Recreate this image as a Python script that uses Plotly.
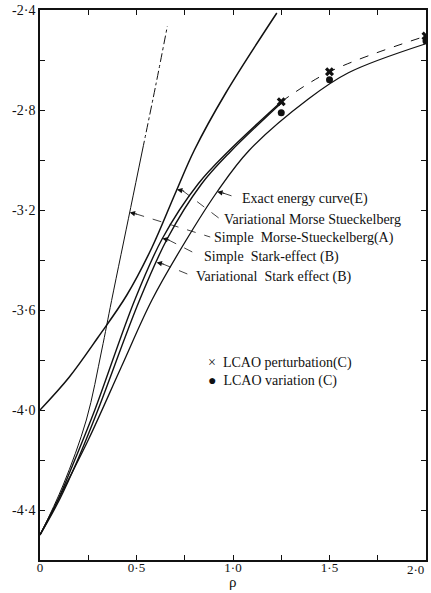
import numpy as np
import plotly.graph_objects as go

# ---------------- data ----------------
rho_simple_morse = [0.0, 0.12, 0.24, 0.32, 0.371, 0.47, 0.531]
E_simple_morse = [-4.5, -4.30, -4.04, -3.76, -3.562, -3.19, -2.96]
rho_simple_morse_ext = [0.531, 0.60, 0.66]
E_simple_morse_ext = [-2.96, -2.70, -2.464]

rho_var_morse = [0.0, 0.15, 0.30, 0.45, 0.58, 0.70, 0.80, 0.964, 1.227]
E_var_morse = [-4.0, -3.87, -3.71, -3.54, -3.35, -3.135, -2.96, -2.73, -2.412]

rho_simple_stark = [0.0, 0.093, 0.18, 0.284, 0.49, 0.634, 0.82, 0.979, 1.25]
E_simple_stark = [-4.5, -4.36, -4.2, -4.0, -3.562, -3.314, -3.095, -2.963, -2.767]

rho_var_stark = [0.0, 0.10, 0.195, 0.30, 0.515, 0.66, 0.835, 0.985, 1.25]
E_var_stark = [-4.5, -4.36, -4.2, -4.0, -3.562, -3.314, -3.098, -2.968, -2.772]

rho_exact = [0.0, 0.10, 0.25, 0.42, 0.58, 0.75, 0.918, 1.082, 1.392, 1.598, 1.995]
E_exact = [-4.5, -4.35, -4.12, -3.83, -3.56, -3.33, -3.127, -2.963, -2.755, -2.651, -2.536]

rho_lcao = [1.25, 1.5, 2.0]
E_lcao_pert = [-2.767, -2.647, -2.504]
E_lcao_var = [-2.811, -2.679, -2.524]

x_ticks = [0, 0.25, 0.5, 0.75, 1.0, 1.25, 1.5, 1.75, 2.0]
x_ticktext = ["0", "", "0·5", "", "1·0", "", "1·5", "", ""]
x_last_label = "2·0"
y_ticks = [-4.4, -4.2, -4.0, -3.8, -3.6, -3.4, -3.2, -3.0, -2.8, -2.6, -2.4]
y_ticktext = ["-4·4", "", "-4·0", "", "-3·6", "", "-3·2", "", "-2·8", "", "-2·4"]

labels = ["Exact energy curve(E)", "Variational Morse Stueckelberg",
          "Simple  Morse-Stueckelberg(A)", "Simple  Stark-effect (B)",
          "Variational  Stark effect (B)"]

FONT = "Liberation Serif"
INK = "#111111"

fig = go.Figure()

def curve(x, y, width=1.3, dash="solid"):
    fig.add_trace(go.Scatter(x=x, y=y, mode="lines", line_shape="spline",
                             line=dict(color=INK, width=width, dash=dash),
                             showlegend=False, hoverinfo="skip"))

curve(rho_simple_morse, E_simple_morse, 1.0)
curve(rho_simple_morse_ext, E_simple_morse_ext, 1.0, "dashdot")
curve(rho_var_morse, E_var_morse, 1.5)
curve(rho_simple_stark, E_simple_stark, 1.4)
curve(rho_var_stark, E_var_stark, 1.4)
curve(rho_exact, E_exact, 1.3)
curve(rho_lcao, E_lcao_pert, 1.0, "dash")

fig.add_trace(go.Scatter(x=rho_lcao, y=E_lcao_pert, mode="markers",
                         marker=dict(symbol="x", size=8, color=INK),
                         showlegend=False, hoverinfo="skip"))
fig.add_trace(go.Scatter(x=rho_lcao, y=E_lcao_var, mode="markers",
                         marker=dict(symbol="circle", size=7, color=INK),
                         showlegend=False, hoverinfo="skip"))


def x_on(xs, ys, yv):
    return float(np.interp(yv, ys, xs))

# (curve, energy at the arrow tip, label start position)
leaders = [
    (rho_exact, E_exact, -3.127, 1.036, -3.154),
    (rho_var_morse, E_var_morse, -3.118, 0.943, -3.238),
    (rho_simple_morse, E_simple_morse, -3.21, 0.892, -3.310),
    (rho_simple_stark, E_simple_stark, -3.314, 0.840, -3.386),
    (rho_var_stark, E_var_stark, -3.41, 0.799, -3.466),
]
for (xs, ys, yv, tx, ty), lab in zip(leaders, labels):
    ax_ = x_on(xs, ys, yv)
    fig.add_shape(type="line", x0=ax_ + 0.03, y0=yv - 0.005, x1=tx - 0.01, y1=ty + 0.002,
                  line=dict(color=INK, width=0.8, dash="dash"))
    fig.add_annotation(x=ax_, y=yv, ax=ax_ + 0.045, ay=yv - 0.008, axref="x", ayref="y",
                       text="", showarrow=True, arrowhead=2, arrowsize=1.2,
                       arrowwidth=0.9, arrowcolor=INK)
    fig.add_annotation(x=tx, y=ty, text=lab, showarrow=False, xanchor="left",
                       yanchor="middle", font=dict(family=FONT, size=14, color=INK))

fig.add_annotation(x=0.86, y=-3.813, text="×  LCAO perturbation(C)", showarrow=False,
                   xanchor="left", yanchor="middle", font=dict(family=FONT, size=14, color=INK))
fig.add_annotation(x=0.86, y=-3.885, text="●  LCAO variation (C)", showarrow=False,
                   xanchor="left", yanchor="middle", font=dict(family=FONT, size=14, color=INK))

fig.add_annotation(x=-0.07, y=-2.575, text="E", showarrow=False, xref="x", yref="y",
                   font=dict(family=FONT, size=14, color=INK))
fig.add_annotation(x=1.0, y=-0.058, text="ρ", showarrow=False, xref="x", yref="paper",
                   yanchor="bottom", font=dict(family=FONT, size=15, color=INK))
fig.add_annotation(x=x_ticks[-1], y=-0.0175, text=x_last_label, showarrow=False,
                   xref="x", yref="paper", xanchor="right", yanchor="middle",
                   font=dict(family=FONT, size=13, color=INK))

axis_common = dict(showgrid=False, zeroline=False, showline=True, linecolor=INK,
                   linewidth=1.5, mirror="ticks", ticks="inside", ticklen=5,
                   tickwidth=1.2, tickcolor=INK)
fig.update_xaxes(range=[0, 2.0], tickvals=x_ticks, ticktext=x_ticktext,
                 ticklabelstandoff=-5,
                 tickfont=dict(family=FONT, size=13, color=INK), **axis_common)
fig.update_yaxes(range=[-4.6, -2.4], tickvals=y_ticks, ticktext=y_ticktext,
                 tickfont=dict(family=FONT, size=14, color=INK), **axis_common)

fig.update_layout(width=431, height=593, autosize=False,
                  margin=dict(l=40, r=3, t=9, b=33),
                  paper_bgcolor="white", plot_bgcolor="white", showlegend=False)

fig.write_html("out.html")
